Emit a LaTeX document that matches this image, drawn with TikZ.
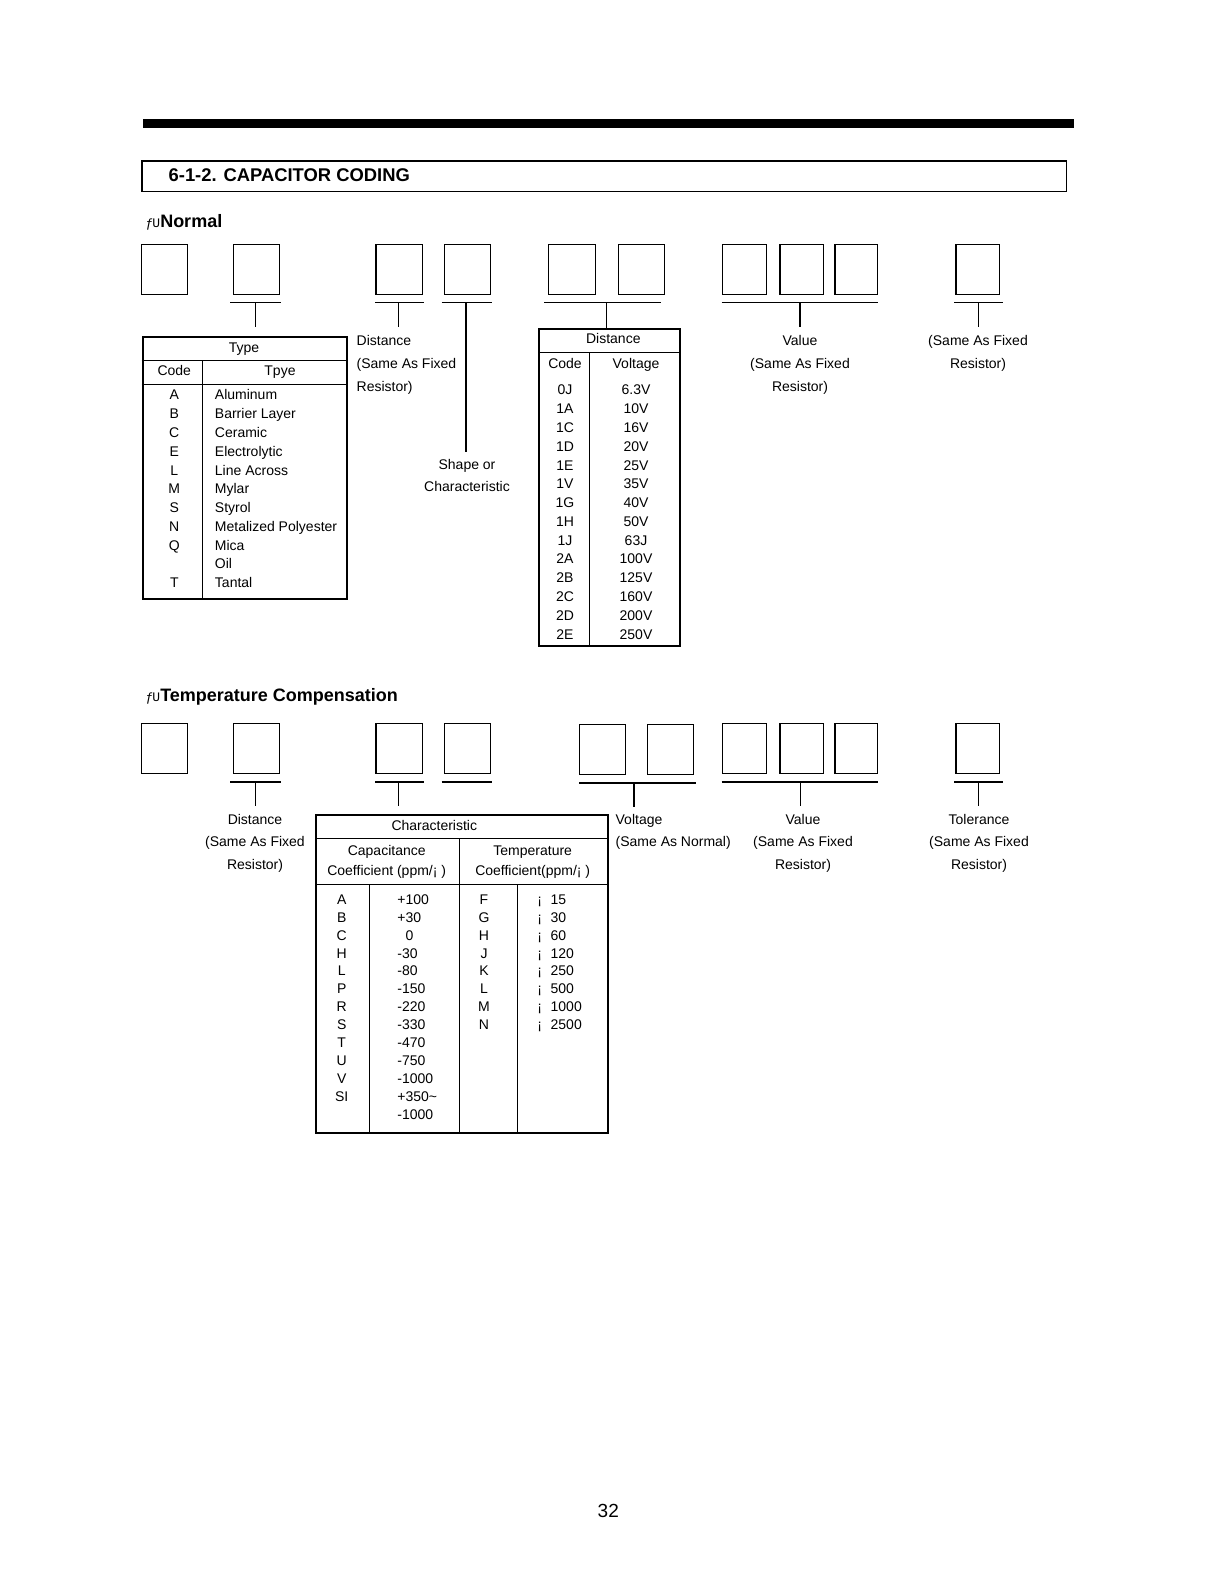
\documentclass[tikz,border=0pt]{standalone}
\usepackage{fontspec}
\setmainfont{Liberation Sans}
\newfontfamily\junkfont{Liberation Mono}
\usetikzlibrary{positioning,calc}

\begin{document}
\begin{tikzpicture}[
  x=0.5pt, y=-0.5pt,
  line width=0.65pt,
  font=\fontsize{7}{11.4}\selectfont,
  digit/.style={draw, minimum width=23pt, minimum height=25pt, inner sep=0pt},
  tx/.style={anchor=base, inner sep=0pt},
  txl/.style={anchor=base west, inner sep=0pt},
  lbl/.style={anchor=north, align=center, inner sep=0pt},
  tabframe/.style={draw, line width=1pt, inner sep=0pt, anchor=north west},
  tabrule/.style={line width=0.6pt},
  sechead/.style={anchor=base west, inner sep=0pt, font=\fontsize{9}{11}\selectfont\bfseries},
  stem/.style={shorten >=#1},
  ]
  \useasboundingbox (0,0) rectangle (1219,1582);

  % Page rule and title.
  \fill (142.7,119) rectangle (1074,128);
  \node[draw, line width=0.7pt, anchor=north west, inner sep=0pt,
    minimum width=462.2pt, minimum height=15.35pt] (titlebox) at (141.3,160.3) {};
  \node[txl, font=\fontsize{9.2}{11}\selectfont\bfseries] (title) at (168,182)
    {6-1-2. CAPACITOR CODING};

  % Normal.
  \node[sechead] (hnorm) at (145,228)
    {{\junkfont\fontsize{6.5}{7}\selectfont\mdseries ƒ\kern-0.5ptU}Normal};
  \foreach \n/\x/\w in {n1/164.7/23, n2/256.3/23, n3/399.3/23.3, n4/467.5/23.2,
      n5/572/23.7, n6/641.3/23, n7/744.5/22.2, n8/801.8/21.8, n9/856.3/21.3,
      n10/977.7/21.6}
    \node[digit, minimum width=\w pt] (\n) at (\x,269.3) {};

  \draw ($(n2.south west)+(-2.3,7.7)$) -- ($(n2.south east)+(0.7,7.7)$);
  \draw ($(n3.south west)+(0,7.7)$) -- ($(n3.south east)+(0.3,7.7)$);
  \draw ($(n4.south west)+(-2,7.7)$) -- ($(n4.south east)+(1,7.7)$);
  \draw ($(n5.south west)+(-3.3,7.7)$) -- ($(n6.south east)+(-3.6,7.7)$);
  \draw ($(n7.south west)+(0,7.7)$) -- ($(n9.south east)+(0,7.7)$);
  \draw ($(n10.south west)+(-1,7.7)$) -- ($(n10.south east)+(3,7.7)$);
  \coordinate (s2) at ($(n2.south)+(-1,7.7)$);
  \coordinate (s3) at ($(n3.south)+(-1,7.7)$);
  \coordinate (s4) at ($(n4.south)+(-1.5,7.7)$);
  \coordinate (s5) at ($(n5.south west)!0.5!(n6.south east)+(0,7.7)$);
  \coordinate (s7) at ($(n7.south west)!0.5!(n9.south east)+(0,7.7)$);
  \coordinate (s10) at ($(n10.south)+(0.6,7.7)$);

  \node[lbl, anchor=north west, align=left] (distlbl) at (356,334.7)
    {Distance\\(Same As Fixed\\Resistor)};
  \node[lbl] (shapelbl) at (467,458.3) {Shape or\\Characteristic};
  \node[lbl] (vallbl) at (800,334.7) {Value\\(Same As Fixed\\Resistor)};
  \node[lbl] (samelbl) at (978,334.7) {(Same As Fixed\\Resistor)};

  % Type table.
  \node[tabframe, minimum width=102pt, minimum height=131pt] (typetab) at (141.7,336) {};
  \draw[tabrule] (141.7,360.3) -- (345.7,360.3);
  \draw[tabrule] (141.7,384.3) -- (345.7,384.3);
  \draw[tabrule] (202.3,360.3) -- (202.3,598);
  \node[tx] (typehd) at (244,353) {Type};
  \node[tx] (typecode) at (174.3,376) {Code};
  \node[tx] (typename) at (280,376) {Tpye};
  \foreach \c/\t [count=\i] in {A/Aluminum, B/Barrier Layer, C/Ceramic,
      E/Electrolytic, L/Line Across, M/Mylar, S/Styrol, N/Metalized Polyester,
      Q/Mica, /Oil, T/Tantal} {
    \pgfmathsetmacro\yy{400+(\i-1)*18.77}
    \node[tx] (tc\i) at (174.3,\yy) {\c};
    \node[txl] (tn\i) at (214.3,\yy) {\t};
  }

  % Voltage table.
  \node[tabframe, minimum width=70.5pt, minimum height=158.65pt] (volttab) at (538.3,327.7) {};
  \draw[tabrule] (538.3,352.3) -- (679.3,352.3);
  \draw[tabrule] (589.3,352.3) -- (589.3,645);
  \node[tx] (volthd) at (613.3,344) {Distance};
  \node[tx] (voltcode) at (565,369) {Code};
  \node[tx] (voltname) at (636,369) {Voltage};
  \foreach \c/\v [count=\i] in {0J/6.3V, 1A/10V, 1C/16V, 1D/20V, 1E/25V, 1V/35V,
      1G/40V, 1H/50V, 1J/63J, 2A/100V, 2B/125V, 2C/160V, 2D/200V, 2E/250V} {
    \pgfmathsetmacro\yy{395+(\i-1)*18.77}
    \node[tx] (vc\i) at (565,\yy) {\c};
    \node[tx] (vv\i) at (636,\yy) {\v};
  }

  \draw[stem=4.65pt] (s2) -- (s2 |- typetab.north);
  \draw[stem=4pt] (s3) -- (s3 |- distlbl.north);
  \draw[stem=3.2pt] (s4) -- (s4 |- shapelbl.north);
  \draw (s5) -- (s5 |- volttab.north);
  \draw[stem=4pt] (s7) -- (s7 |- vallbl.north);
  \draw[stem=4pt] (s10) -- (s10 |- samelbl.north);

  % Temperature compensation.
  \node[sechead] (htemp) at (145,701.7)
    {{\junkfont\fontsize{6.5}{7}\selectfont\mdseries ƒ\kern-0.5ptU}Temperature Compensation};
  \foreach \n/\x/\y/\w in {t1/164.7/748.3/23, t2/256.3/748.3/23, t3/399.3/748.3/23.3,
      t4/467.5/748.3/23.2, t5/602.5/749.3/23.2, t6/670.5/749.3/23.2,
      t7/744.5/748.3/22.2, t8/801.8/748.3/21.8, t9/856.3/748.3/21.3,
      t10/977.7/748.3/21.6}
    \node[digit, minimum width=\w pt] (\n) at (\x,\y) {};

  \draw ($(t2.south west)+(-2.3,8)$) -- ($(t2.south east)+(0.7,8)$);
  \draw ($(t3.south west)+(0,8)$) -- ($(t3.south east)+(0.3,8)$);
  \draw ($(t4.south west)+(-2,8)$) -- ($(t4.south east)+(1,8)$);
  \draw ($(t5.south west)+(0.7,8)$) -- ($(t6.south east)+(2,8)$);
  \draw ($(t7.south west)+(0,8)$) -- ($(t9.south east)+(0,8)$);
  \draw ($(t10.south west)+(-1,8)$) -- ($(t10.south east)+(3,8)$);
  \coordinate (r2) at ($(t2.south)+(-1,8)$);
  \coordinate (r3) at ($(t3.south)+(-1,8)$);
  \coordinate (r5) at ($(t5.south west)!0.5!(t6.south east)+(-2.6,8)$);
  \coordinate (r7) at ($(t7.south west)!0.5!(t9.south east)+(0.3,8)$);
  \coordinate (r10) at ($(t10.south)+(0.6,8)$);

  \node[lbl] (tdistlbl) at (255,813.3) {Distance\\(Same As Fixed\\Resistor)};
  \node[lbl, anchor=north west, align=left] (tvoltlbl) at (615,813.3)
    {Voltage\\(Same As Normal)};
  \node[lbl] (tvallbl) at (803,813.3) {Value\\(Same As Fixed\\Resistor)};
  \node[lbl] (toll) at (979,813.3) {Tolerance\\(Same As Fixed\\Resistor)};

  % Characteristic table.
  \node[tabframe, minimum width=146.15pt, minimum height=158.85pt] (chartab) at (315,814) {};
  \draw[tabrule] (315,838.3) -- (607.3,838.3);
  \draw[tabrule] (315,884.3) -- (607.3,884.3);
  \draw[tabrule] (459.3,838.3) -- (459.3,1131.7);
  \draw[tabrule] (369.3,884.3) -- (369.3,1131.7);
  \draw[tabrule] (517.3,884.3) -- (517.3,1131.7);
  \node[tx] (charhd) at (434.3,830) {Characteristic};
  \node[lbl, font=\fontsize{7}{10}\selectfont] (caphd) at (386.7,845)
    {Capacitance\\Coefficient (ppm/¡ )};
  \node[lbl, font=\fontsize{7}{10}\selectfont] (temphd) at (532.7,845)
    {Temperature\\Coefficient(ppm/¡ )};
  \foreach \c/\v [count=\i] in {A/+100, B/+30, C/\phantom{+}0, H/-30, L/-80,
      P/-150, R/-220, S/-330, T/-470, U/-750, V/-1000, SI/+350\textasciitilde, /-1000} {
    \pgfmathsetmacro\yy{904.3+(\i-1)*17.9}
    \node[tx] (cc\i) at (341.7,\yy) {\c};
    \node[txl] (cv\i) at (396.7,\yy) {\v};
  }
  \foreach \c/\v [count=\i] in {F/15, G/30, H/60, J/120, K/250, L/500, M/1000, N/2500} {
    \pgfmathsetmacro\yy{904.3+(\i-1)*17.9}
    \node[tx] (kc\i) at (484,\yy) {\c};
    \node[txl] (km\i) at (536.7,\yy) {¡};
    \node[txl] (kv\i) at (550,\yy) {\v};
  }

  \draw[stem=3.6pt] (r2) -- (r2 |- tdistlbl.north);
  \draw[stem=4.15pt] (r3) -- (r3 |- chartab.north);
  \draw[stem=3.2pt] (r5) -- (r5 |- tvoltlbl.north);
  \draw[stem=3.6pt] (r7) -- (r7 |- tvallbl.north);
  \draw[stem=3.6pt] (r10) -- (r10 |- toll.north);

  % Page number.
  \node[tx, font=\fontsize{9.5}{11}\selectfont] (pagenum) at (608.3,1517) {32};
\end{tikzpicture}
\end{document}
